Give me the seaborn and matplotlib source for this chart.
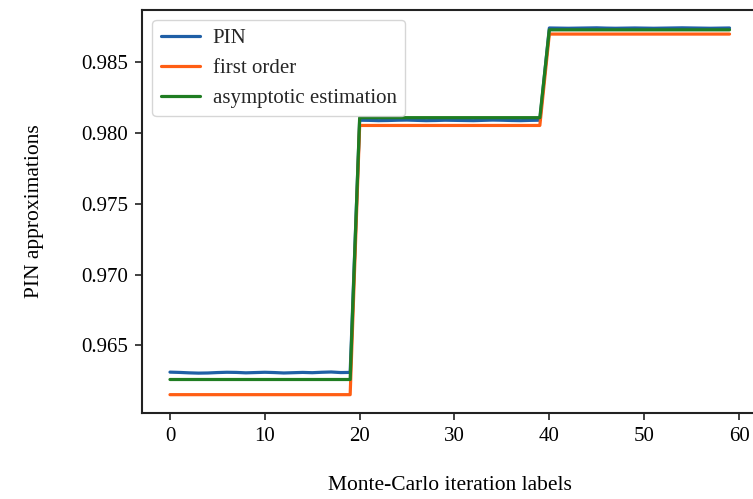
import pandas as pd
import matplotlib
matplotlib.use('Agg')
import matplotlib.pyplot as plt
import seaborn as sns

# iteration labels 0..59
iterations = list(range(60))

# PIN (slightly noisy around each level)
pin_block1 = [0.96312, 0.96310, 0.96307, 0.96305, 0.96306, 0.96309, 0.96311, 0.96310,
              0.96307, 0.96309, 0.96311, 0.96309, 0.96306, 0.96308, 0.96310, 0.96308,
              0.96311, 0.96313, 0.96309, 0.96310]
pin_block2 = [0.98090, 0.98089, 0.98087, 0.98088, 0.98090, 0.98091, 0.98089, 0.98087,
              0.98088, 0.98090, 0.98089, 0.98088, 0.98087, 0.98089, 0.98091, 0.98090,
              0.98088, 0.98087, 0.98089, 0.98090]
pin_block3 = [0.98741, 0.98740, 0.98739, 0.98740, 0.98741, 0.98742, 0.98740, 0.98739,
              0.98740, 0.98741, 0.98740, 0.98739, 0.98740, 0.98741, 0.98742, 0.98741,
              0.98740, 0.98739, 0.98740, 0.98741]

# first order approximation levels
first_order_levels = [0.96153, 0.98053, 0.98698]
# asymptotic estimation levels
asymptotic_levels = [0.96260, 0.98108, 0.98728]

pin = pin_block1 + pin_block2 + pin_block3
first_order = [first_order_levels[0]] * 20 + [first_order_levels[1]] * 20 + [first_order_levels[2]] * 20
asymptotic = [asymptotic_levels[0]] * 20 + [asymptotic_levels[1]] * 20 + [asymptotic_levels[2]] * 20

df = pd.DataFrame({'iteration': iterations, 'PIN': pin,
                   'first order': first_order, 'asymptotic estimation': asymptotic})

sns.set_style('ticks')
plt.rcParams['font.family'] = ['Liberation Serif', 'DejaVu Serif']

fig = plt.figure(figsize=(7.53, 4.99), dpi=100)
ax = fig.add_axes([142 / 753, 1 - 413 / 499, (757.5 - 142) / 753, (413 - 9.5) / 499])

colors = {'PIN': '#1f5fa6', 'first order': '#ff5e14', 'asymptotic estimation': '#1f7d22'}
for name in ['PIN', 'first order', 'asymptotic estimation']:
    sns.lineplot(data=df, x='iteration', y=name, ax=ax, color=colors[name],
                 linewidth=2.3, label=name)

ax.set_xticks([0, 10, 20, 30, 40, 50, 60])
ax.set_yticks([0.965, 0.970, 0.975, 0.980, 0.985])
ax.yaxis.set_major_formatter(matplotlib.ticker.FormatStrFormatter('%.3f'))
ax.tick_params(labelsize=15, length=5, width=1.3, color='#333333', pad=5,
               labelcolor='black')
for s in ax.spines.values():
    s.set_linewidth(1.5)
    s.set_color('#222222')

ax.set_xlabel('Monte-Carlo iteration labels', fontsize=15.5, labelpad=22, color='black')
ax.set_ylabel('PIN approximations', fontsize=15.5, labelpad=27, color='black')
ax.legend(loc='upper left', fontsize=15, frameon=True, fancybox=True,
          borderaxespad=0.5, handletextpad=0.6, handlelength=1.9)

fig.savefig('out.png', dpi=100)
